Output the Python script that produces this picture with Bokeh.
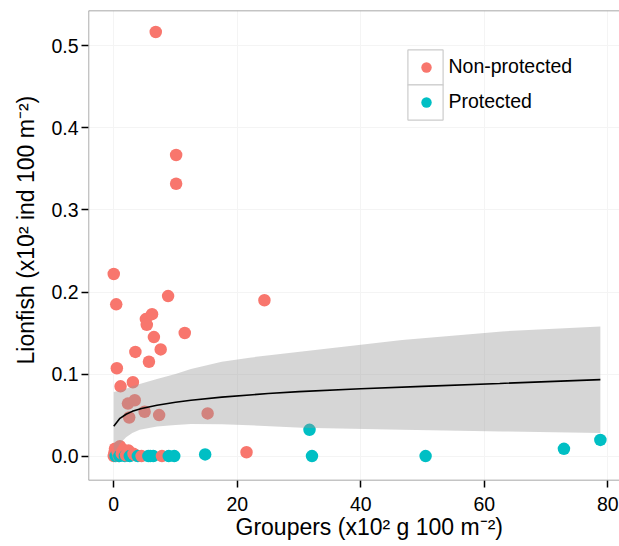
import numpy as np
from bokeh.plotting import figure
from bokeh.models import (ColumnDataSource, Legend, LegendItem, FixedTicker,
                          PrintfTickFormatter, Range1d, Span, Title)
from bokeh.embed import file_html
from bokeh.resources import INLINE

# ---------------- data ----------------
groups = ["Non-protected", "Protected"]
group_colors = ["#F8766D", "#00BFC4"]

# Non-protected sites: groupers (x10^2 g 100 m^-2), lionfish (x10^2 ind 100 m^-2)
nonprot_x = [6.8, 10.1, 10.1, 0.0, 0.4, 8.8, 24.4, 6.2, 5.2, 5.35, 11.5, 6.5,
             7.6, 3.5, 5.7, 0.5, 3.1, 1.1, 2.3, 3.4, 5.0, 7.35, 2.5, 15.2,
             21.5, 0.0, 0.1, 0.2, 0.3, 0.6, 0.8, 1.0, 1.3, 1.7, 2.0, 2.4,
             3.2, 3.5, 4.5, 7.8]
nonprot_y = [0.517, 0.367, 0.332, 0.222, 0.185, 0.195, 0.190, 0.173, 0.167,
             0.160, 0.150, 0.145, 0.130, 0.127, 0.115, 0.107, 0.090, 0.085,
             0.064, 0.068, 0.054, 0.050, 0.047, 0.052, 0.0046, 0.0, 0.004,
             0.009, 0.002, 0.006, 0.0, 0.012, 0.003, 0.007, 0.001, 0.0067,
             0.0027, 0.001, 0.0, 0.0]

# Protected sites
prot_x = [0.3, 0.9, 1.8, 2.6, 3.9, 5.6, 5.9, 6.4, 8.9, 9.8, 14.8, 31.7, 32.1,
          50.5, 72.9, 78.8]
prot_y = [0.0, 0.0, 0.0, 0.0, 0.0, 0.0, 0.0, 0.0, 0.0, 0.0, 0.002, 0.032,
          0.0, 0.0, 0.0088, 0.0197]

# fitted curve
fit_x = [0.0, 1.0, 2.0, 3.0, 4.5, 7.0, 10.0, 12.5, 17.5, 25.0, 30.0, 40.0,
         50.0, 62.5, 78.8]
fit_y = [0.0363, 0.046, 0.051, 0.0545, 0.058, 0.062, 0.0655, 0.068, 0.0718,
         0.0762, 0.0785, 0.0820, 0.0850, 0.0885, 0.0932]

# confidence band
band_x = [0.0, 0.5, 1.0, 2.0, 3.0, 4.2, 7.0, 10.0, 12.5, 17.5, 22.0, 30.5,
          46.7, 62.9, 78.8]
band_lower = [0.002, 0.009, 0.015, 0.023, 0.028, 0.032, 0.036, 0.038, 0.039,
              0.0388, 0.0375, 0.0345, 0.032, 0.030, 0.028]
band_upper = [0.078, 0.079, 0.080, 0.082, 0.085, 0.088, 0.094, 0.100, 0.106,
              0.115, 0.120, 0.1275, 0.1415, 0.152, 0.158]

x_ticks = [0, 20, 40, 60, 80]
y_ticks = [0.0, 0.1, 0.2, 0.3, 0.4, 0.5]

x_title = "Groupers (x10\u00b2 g 100 m\u207b\u00b2)"
y_title = "Lionfish  (x10\u00b2 ind 100 m\u207b\u00b2)"

# ---------------- figure ----------------
FONT = "Liberation Sans"
xr = Range1d(-4.09, 81.9)
yr = Range1d(-0.0298, 0.5432)

p = figure(width=619, height=546, x_range=xr, y_range=yr,
           output_backend="svg", toolbar_location=None,
           min_border_left=87, min_border_right=0, min_border_top=10,
           min_border_bottom=66)
p.outline_line_color = None
p.background_fill_color = "white"
p.border_fill_color = "white"

# combined points, drawn in x order
all_x = list(nonprot_x) + list(prot_x)
all_y = list(nonprot_y) + list(prot_y)
all_c = [group_colors[0]] * len(nonprot_x) + [group_colors[1]] * len(prot_x)
order = np.argsort(np.array(all_x), kind="stable")
pts = ColumnDataSource(dict(x=[all_x[i] for i in order],
                            y=[all_y[i] for i in order],
                            c=[all_c[i] for i in order]))
pt_r = p.scatter("x", "y", source=pts, size=12.5, fill_color="c",
                 line_color=None)

# band over points
p.varea(x=band_x, y1=band_lower, y2=band_upper, fill_color="#999999",
        fill_alpha=0.4)
p.line(fit_x, fit_y, line_color="black", line_width=1.6)

# panel border (left, top, bottom)
for loc, dim in [(xr.start, "height"), (yr.end, "width"), (yr.start, "width")]:
    p.add_layout(Span(location=loc, dimension=dim, line_color="#8A8A8A",
                      line_width=1.4))

# axes
for ax in (p.xaxis[0], p.yaxis[0]):
    ax.axis_line_color = None
    ax.major_tick_line_color = "black"
    ax.major_tick_line_width = 1.5
    ax.major_tick_in = 0
    ax.major_tick_out = 7
    ax.minor_tick_line_color = None
    ax.major_label_text_font = FONT
    ax.major_label_text_font_size = "19.5px"
    ax.major_label_text_color = "black"

p.xaxis.ticker = FixedTicker(ticks=x_ticks)
p.yaxis.ticker = FixedTicker(ticks=y_ticks)
p.yaxis.formatter = PrintfTickFormatter(format="%.1f")
p.xaxis.major_label_standoff = 9
p.yaxis.major_label_standoff = 3

p.xgrid.ticker = FixedTicker(ticks=x_ticks)
p.ygrid.ticker = FixedTicker(ticks=y_ticks)
p.grid.grid_line_color = "#F4F4F4"
p.grid.grid_line_width = 1

# axis titles as side titles (the original panel continues past the right
# edge of the image, so the x title starts where the original one does)
p.add_layout(Title(text=x_title, align="left", offset=147, standoff=0,
                   vertical_align="top", text_font=FONT,
                   text_font_size="23px", text_font_style="normal",
                   text_color="black"), "below")
p.add_layout(Title(text=y_title, align="left", offset=116, standoff=20,
                   vertical_align="bottom", text_font=FONT,
                   text_font_size="23px", text_font_style="normal",
                   text_color="black"), "left")

# ---------------- legend ----------------
# key boxes (one legend per key, stacked edge to edge)
box_r = p.rect(x=np.array([np.nan]), y=np.array([np.nan]), width=1, height=1,
               fill_color="white", line_color="#CCCCCC", line_width=1.2)
for loc in [(314.6, 391.4), (314.6, 356.4)]:
    p.add_layout(Legend(items=[LegendItem(label=" ", renderers=[box_r])],
                        location=loc, glyph_width=44, glyph_height=44,
                        padding=0, margin=0, border_line_color=None,
                        background_fill_alpha=0, label_text_font_size="1px",
                        label_width=1, label_height=1, label_standoff=0))

idx_np = int(np.where(np.array(pts.data["c"]) == group_colors[0])[0][0])
idx_p = int(np.where(np.array(pts.data["c"]) == group_colors[1])[0][0])
dot_leg = Legend(items=[LegendItem(label=groups[0], renderers=[pt_r], index=idx_np),
                        LegendItem(label=groups[1], renderers=[pt_r], index=idx_p)],
                 location=(324.5, 365.5), orientation="vertical",
                 glyph_width=26, glyph_height=26, spacing=9, padding=0,
                 margin=0, border_line_color=None, background_fill_alpha=0,
                 label_standoff=10, label_text_font=FONT,
                 label_text_font_size="19.5px", label_text_color="black",
                 label_height=26)
p.add_layout(dot_leg)

open("out.html", "w").write(file_html(p, INLINE))
